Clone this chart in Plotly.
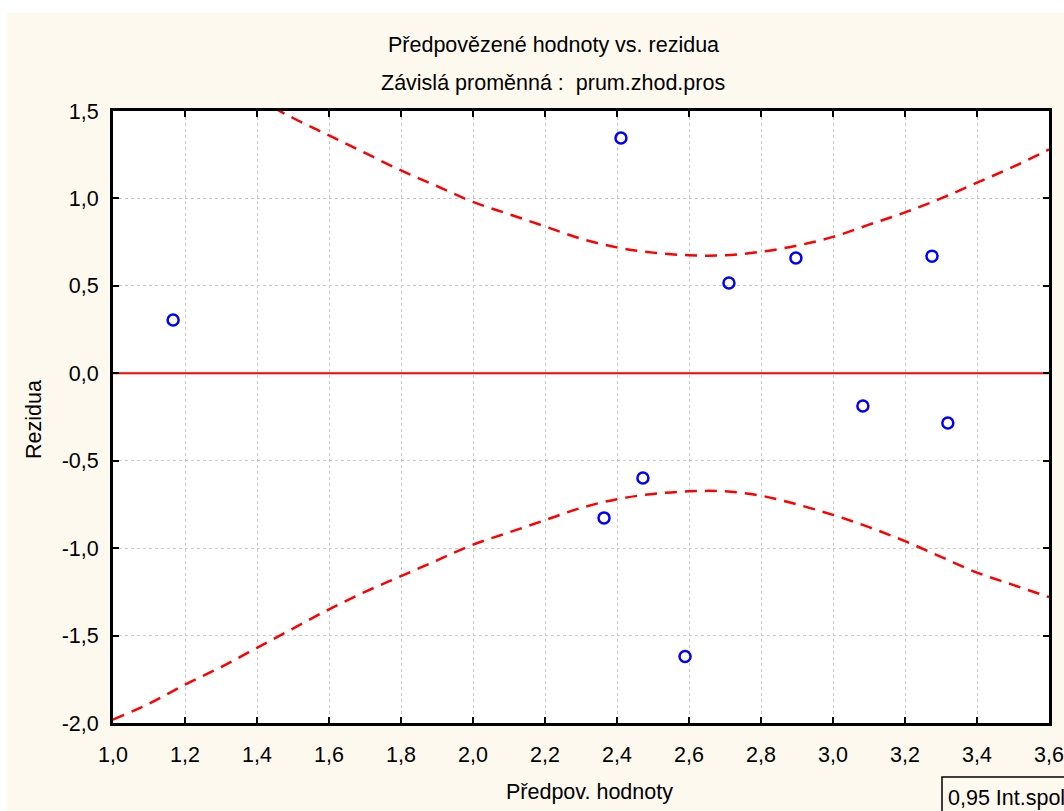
import plotly.graph_objects as go

# ---- data ----
pred = [1.167, 2.411, 2.364, 2.472, 2.589, 2.711, 2.897, 3.083, 3.275, 3.319]
resid = [0.305, 1.346, -0.827, -0.599, -1.62, 0.516, 0.659, -0.187, 0.67, -0.284]

band_x = [1.0, 1.1, 1.2, 1.3, 1.4, 1.5, 1.6, 1.7, 1.8, 1.9, 2.0, 2.1, 2.2, 2.3,
          2.4, 2.5, 2.6, 2.7, 2.8, 2.9, 3.0, 3.1, 3.2, 3.3, 3.4, 3.5, 3.6]
band_upper = [1.98, 1.88, 1.78, 1.68, 1.57, 1.46, 1.36, 1.26, 1.16, 1.07, 0.98, 0.91,
              0.84, 0.77, 0.72, 0.69, 0.675, 0.675, 0.695, 0.73, 0.78, 0.85, 0.92,
              1.00, 1.09, 1.18, 1.28]
band_lower = [-1.98, -1.89, -1.78, -1.68, -1.57, -1.46, -1.35, -1.25, -1.16, -1.07,
              -0.98, -0.91, -0.84, -0.77, -0.72, -0.69, -0.675, -0.675, -0.70, -0.75,
              -0.81, -0.88, -0.96, -1.05, -1.14, -1.21, -1.28]

x_ticks = [1.0, 1.2, 1.4, 1.6, 1.8, 2.0, 2.2, 2.4, 2.6, 2.8, 3.0, 3.2, 3.4, 3.6]
x_ticktext = ["1,0", "1,2", "1,4", "1,6", "1,8", "2,0", "2,2", "2,4", "2,6", "2,8",
              "3,0", "3,2", "3,4", "3,6"]
y_ticks = [1.5, 1.0, 0.5, 0.0, -0.5, -1.0, -1.5, -2.0]
y_ticktext = ["1,5", "1,0", "0,5", "0,0", "-0,5", "-1,0", "-1,5", "-2,0"]

title1 = "Předpovězené hodnoty vs. rezidua"
title2 = "Závislá proměnná :  prum.zhod.pros"
x_title = "Předpov. hodnoty"
y_title = "Rezidua"
legend_text = "0,95 Int.spol."

# ---- layout geometry ----
W, H = 1064, 811
ML, MR, MT, MB = 113, 15, 111, 88
PW, PH = W - ML - MR, H - MT - MB


def px(x):
    return (x - ML) / PW


def py(y):
    return (H - MB - y) / PH


FONT = "Liberation Sans, Arial, sans-serif"
FS = 21.5
CREAM = "#fef9ef"

fig = go.Figure()

fig.add_trace(go.Scatter(x=[1.0, 3.6], y=[0, 0], mode="lines",
                         line=dict(color="#ff0000", width=2), showlegend=False,
                         hoverinfo="skip"))
fig.add_trace(go.Scatter(x=band_x, y=band_upper, mode="lines",
                         line=dict(color="#ff0000", width=2.5, dash="12px,8px", shape="spline"),
                         showlegend=False))
fig.add_trace(go.Scatter(x=band_x, y=band_lower, mode="lines",
                         line=dict(color="#ff0000", width=2.5, dash="12px,8px", shape="spline"),
                         showlegend=False))
fig.add_trace(go.Scatter(x=pred, y=resid, mode="markers",
                         marker=dict(symbol="circle-open", size=11, color="#0000ff",
                                     line=dict(width=2.5, color="#0000ff")),
                         showlegend=False))

axis_common = dict(showgrid=True, gridcolor="#c8c8c8", gridwidth=1, griddash="3px,3px",
                   showline=True, linecolor="black", linewidth=3, mirror="allticks",
                   ticks="inside", ticklen=6, tickwidth=2, tickcolor="black",
                   zeroline=False, automargin=False,
                   tickfont=dict(family=FONT, size=FS, color="black"))

fig.update_xaxes(range=[1.0, 3.6], tickvals=x_ticks, ticktext=x_ticktext,
                 ticklabelstandoff=10, **axis_common)
fig.update_yaxes(range=[-2.0, 1.5], tickvals=y_ticks, ticktext=y_ticktext,
                 ticklabelstandoff=7, **axis_common)

shapes = [
    # white strips at the top and left of the page
    dict(type="rect", xref="paper", yref="paper", x0=px(-5), x1=px(W + 5),
         y0=py(13), y1=py(-5), fillcolor="white", line=dict(width=0), layer="below"),
    dict(type="rect", xref="paper", yref="paper", x0=px(-5), x1=px(7),
         y0=py(H + 5), y1=py(-5), fillcolor="white", line=dict(width=0), layer="below"),
    # legend box (cut by the page edge)
    dict(type="rect", xref="paper", yref="paper", x0=px(942), x1=px(1180),
         y0=py(830), y1=py(777), fillcolor=CREAM, line=dict(width=1.5, color="black"),
         layer="above"),
]

annotations = [
    dict(text=title1, x=px(553), y=py(45), xref="paper", yref="paper",
         showarrow=False, font=dict(family=FONT, size=FS, color="black"),
         xanchor="center", yanchor="middle"),
    dict(text=title2, x=px(553), y=py(83), xref="paper", yref="paper",
         showarrow=False, font=dict(family=FONT, size=FS, color="black"),
         xanchor="center", yanchor="middle"),
    dict(text=x_title, x=px(589), y=py(792), xref="paper", yref="paper",
         showarrow=False, font=dict(family=FONT, size=FS, color="black"),
         xanchor="center", yanchor="middle"),
    dict(text=y_title, x=px(34), y=py(420), xref="paper", yref="paper",
         showarrow=False, textangle=-90, font=dict(family=FONT, size=FS, color="black"),
         xanchor="center", yanchor="middle"),
    dict(text=legend_text, x=px(946), y=py(798), xref="paper", yref="paper",
         showarrow=False, font=dict(family=FONT, size=FS, color="black"),
         xanchor="left", yanchor="middle"),
]

fig.update_layout(width=W, height=H, margin=dict(l=ML, r=MR, t=MT, b=MB, autoexpand=False),
                  paper_bgcolor=CREAM, plot_bgcolor="white",
                  shapes=shapes, annotations=annotations, showlegend=False)

fig.write_html("out.html")
